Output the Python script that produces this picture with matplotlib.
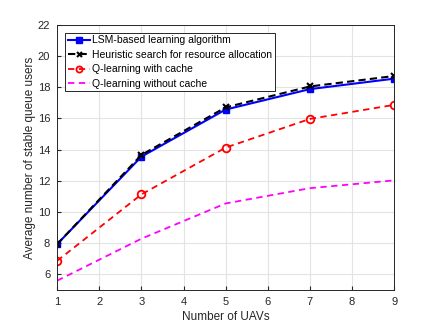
import matplotlib
matplotlib.use("Agg")
import matplotlib.pyplot as plt

plt.rcParams["font.family"] = ["Liberation Sans", "DejaVu Sans"]

#data
uavs = [1, 3, 5, 7, 9]
lsm = [7.94, 13.55, 16.57, 17.88, 18.55]
heuristic = [7.94, 13.66, 16.71, 18.05, 18.72]
q_cache = [6.87, 11.13, 14.13, 15.97, 16.87]
q_nocache = [5.6, 8.29, 10.55, 11.53, 12.03]

fig = plt.figure(figsize=(4.36, 3.27), dpi=100)
ax = fig.add_axes([0.131, 0.113, 0.773, 0.811])

ax.plot(uavs, lsm, color="blue", lw=1.5, marker="s", ms=5,
        label="LSM-based learning algorithm")
ax.plot(uavs, heuristic, color="black", lw=1.5, ls=(0, (3.5, 2)), marker="x", ms=4.5,
        mew=1.5, label="Heuristic search for resource allocation")
ax.plot(uavs, q_cache, color="red", lw=1.3, ls=(0, (3.5, 2.5)), marker="o", ms=5.5,
        mfc="none", mew=1.3, label="Q-learning with cache")
ax.plot(uavs, q_nocache, color="magenta", lw=1.3, ls=(0, (3.5, 2.5)),
        label="Q-learning without cache")

ax.set_xlim(1, 9)
ax.set_ylim(5, 22)
ax.set_xticks(range(1, 10))
ax.set_yticks(range(6, 23, 2))
ax.grid(True, color="#e3e3e3", lw=0.8)
ax.set_axisbelow(True)
ax.tick_params(direction="in", labelsize=8, length=3, pad=5, color="#262626", labelcolor="#262626")
for s in ax.spines.values():
    s.set_color("#262626")
    s.set_linewidth(0.7)

ax.set_xlabel("Number of UAVs", fontsize=8.5, color="#262626", labelpad=3)
ax.set_ylabel("Average number of stable queue users", fontsize=8.5, color="#262626", labelpad=1)

leg = ax.legend(loc="upper left", fontsize=7.5, fancybox=False, framealpha=1,
                edgecolor="#262626", borderpad=0.25, labelspacing=0.42, markerscale=0.8,
                handlelength=2.1, handletextpad=0.25, borderaxespad=0,
                bbox_to_anchor=(0.024, 0.97))
leg.get_frame().set_linewidth(0.7)

fig.savefig("out.png", dpi=100)
